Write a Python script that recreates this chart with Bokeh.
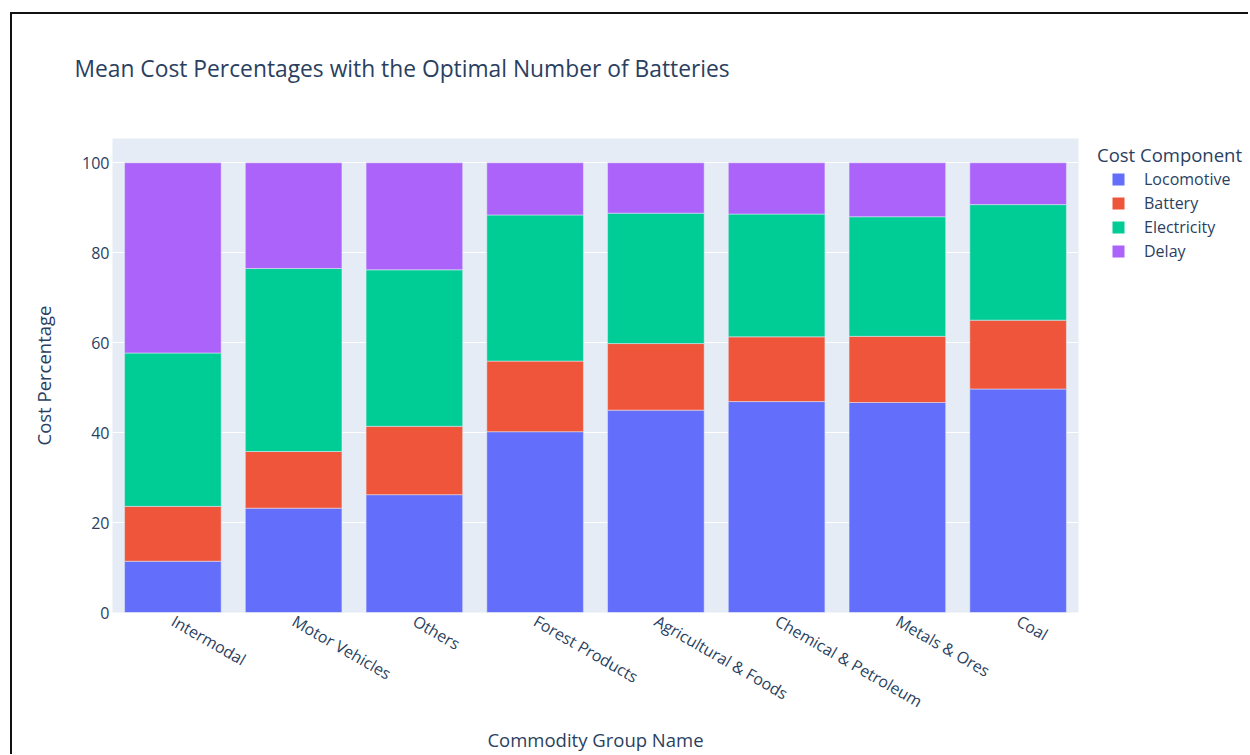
import math
from bokeh.plotting import figure
from bokeh.layouts import row
from bokeh.models import (ColumnDataSource, FactorRange, Range1d, Legend, LegendItem, Title)
from bokeh.embed import file_html
from bokeh.resources import INLINE

categories = ["Intermodal", "Motor Vehicles", "Others", "Forest Products",
              "Agricultural & Foods", "Chemical & Petroleum", "Metals & Ores", "Coal"]
locomotive = [11.4, 23.2, 26.2, 40.2, 45.0, 46.9, 46.7, 49.7]
battery = [12.2, 12.6, 15.2, 15.7, 14.8, 14.4, 14.7, 15.3]
electricity = [34.1, 40.7, 34.8, 32.5, 29.0, 27.3, 26.6, 25.7]
delay = [42.3, 23.5, 23.8, 11.6, 11.2, 11.4, 12.0, 9.3]
series_names = ["Locomotive", "Battery", "Electricity", "Delay"]
colors = ["#636efa", "#EF553B", "#00cc96", "#ab63fa"]
y_ticks = [0, 20, 40, 60, 80, 100]

FONT = "Open Sans"
TXT = "#2a3f5f"

src = ColumnDataSource(dict(cat=categories, Locomotive=locomotive, Battery=battery,
                            Electricity=electricity, Delay=delay))

# ---------------- main chart ----------------
p = figure(x_range=FactorRange(factors=categories, range_padding=0),
           y_range=Range1d(0, 105.4),
           width=1070, height=740, output_backend="svg", toolbar_location=None,
           min_border_left=100, min_border_right=4, min_border_top=124, min_border_bottom=139)

rs = p.vbar_stack(series_names, x="cat", width=0.8, source=src, color=colors,
                  line_color="#E5ECF6", line_width=0.5)

p.background_fill_color = "#E5ECF6"
p.border_fill_color = "white"
p.outline_line_color = None
p.xgrid.grid_line_color = None
p.ygrid.grid_line_color = "white"
p.ygrid.grid_line_width = 1.2

p.yaxis.ticker = y_ticks
for ax in (p.xaxis[0], p.yaxis[0]):
    ax.axis_line_color = None
    ax.major_tick_line_color = None
    ax.minor_tick_line_color = None
    ax.major_tick_out = 0
    ax.major_tick_in = 0
    ax.minor_tick_out = 0
    ax.minor_tick_in = 0
    ax.major_label_text_font = FONT
    ax.major_label_text_font_size = "16px"
    ax.major_label_text_color = TXT
    ax.axis_label_text_font = FONT
    ax.axis_label_text_font_size = "18.5px"
    ax.axis_label_text_color = TXT
    ax.axis_label_text_font_style = "normal"

p.yaxis.axis_label = "Cost Percentage"
p.yaxis.major_label_standoff = 3
p.yaxis.axis_label_standoff = 23
p.xaxis.axis_label = "Commodity Group Name"
p.xaxis.major_label_orientation = -math.pi / 6
p.xaxis.major_label_standoff = 7
p.xaxis.axis_label_standoff = 2

# blank gap between the title and the plot area
p.add_layout(Title(text=" ", text_font_size="1px", standoff=47), "above")

p.title.text = "Mean Cost Percentages with the Optimal Number of Batteries"
p.title.text_font = FONT
p.title.text_font_size = "22.8px"
p.title.text_font_style = "normal"
p.title.text_color = TXT
p.title.offset = -38
p.title.standoff = 10

# ---------------- legend panel ----------------
lf = figure(x_range=FactorRange(factors=categories), y_range=Range1d(0, 105.4),
            width=166, height=740, output_backend="svg", toolbar_location=None,
            min_border=0, min_border_left=0, min_border_right=0, min_border_top=0,
            min_border_bottom=0, x_axis_location=None, y_axis_location=None)
lf.outline_line_color = None
lf.background_fill_color = "white"
lf.border_fill_color = "white"
lf.grid.visible = False

swatches = [lf.scatter(x="cat", y=n, source=src, size=0, marker="square",
                       fill_color=c, line_color=c, line_width=2.4, line_join="miter",
                       visible=False) for n, c in zip(series_names, colors)]

items = [LegendItem(label=n, renderers=[r]) for n, r in zip(series_names, swatches)]
legend = Legend(items=items, location=(15, 349), margin=0, padding=0,
                border_line_color=None, background_fill_alpha=0, inactive_fill_alpha=0,
                title="Cost Component", title_text_font=FONT, title_text_font_size="18.5px",
                title_text_font_style="normal", title_text_color=TXT, title_standoff=0,
                glyph_width=42, glyph_height=24, label_height=24, spacing=0,
                label_standoff=5, label_text_font=FONT, label_text_font_size="16px",
                label_text_color=TXT)
lf.add_layout(legend, "center")

layout = row(p, lf, spacing=0)
layout.styles = {"position": "relative", "top": "12px", "left": "10px",
                 "border-top": "2px solid #111", "border-left": "2px solid #111"}

open("out.html", "w").write(file_html(layout, INLINE))
